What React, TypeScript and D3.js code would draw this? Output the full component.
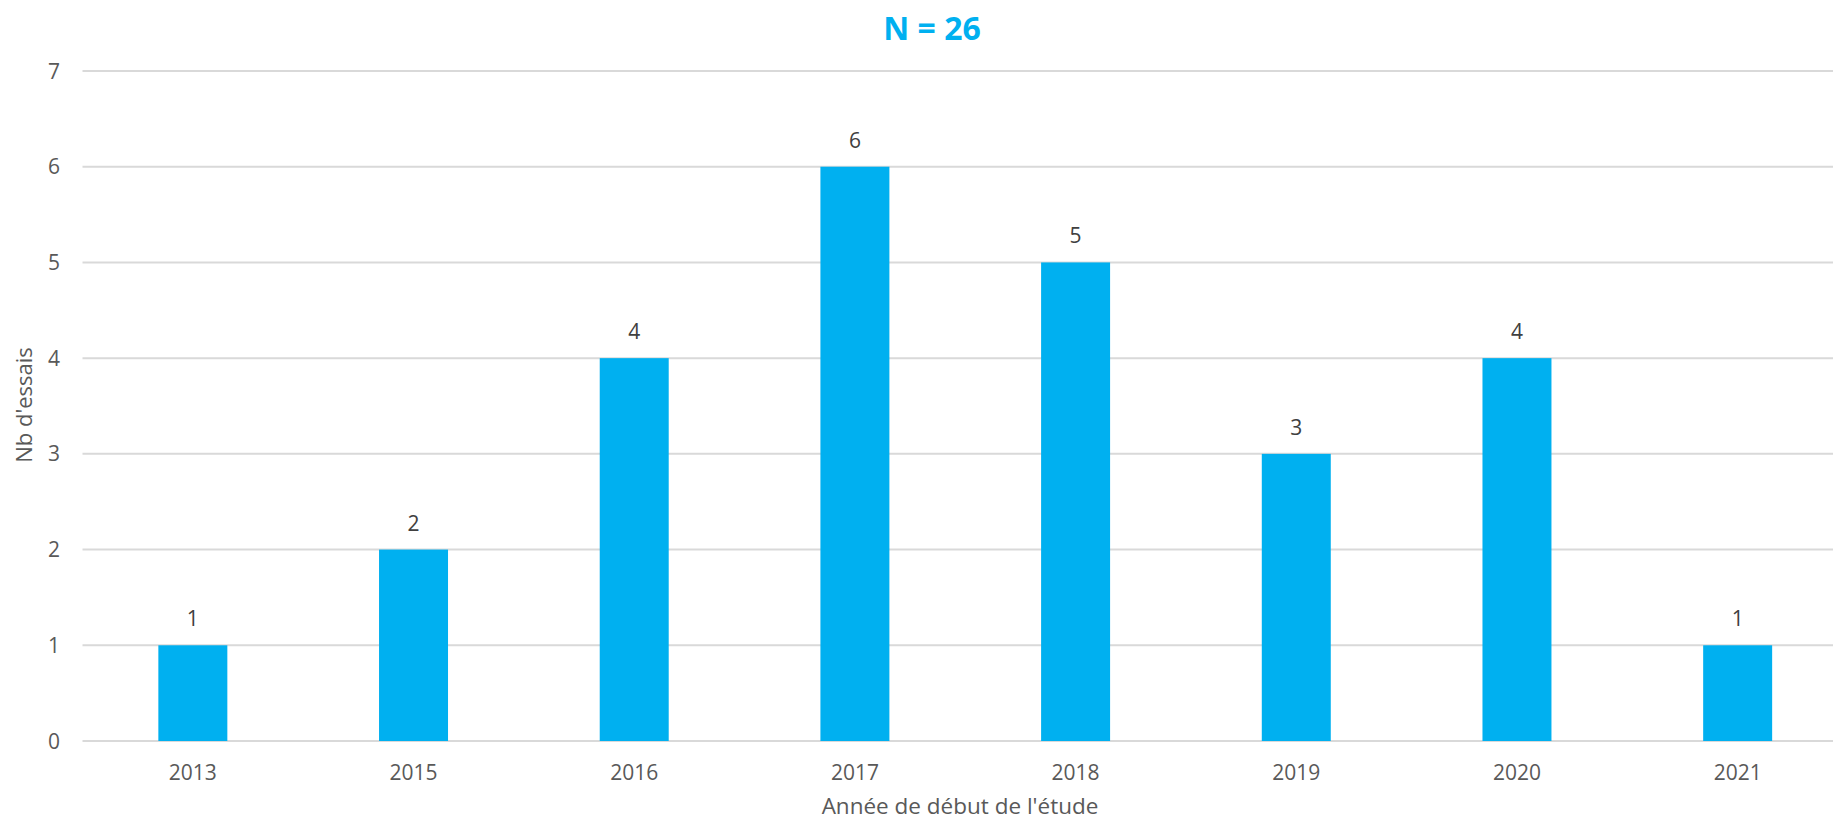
import { useEffect, useRef } from 'react';
import * as d3 from 'd3';

// Data
const years = ['2013', '2015', '2016', '2017', '2018', '2019', '2020', '2021'];
const trials = [1, 2, 4, 6, 5, 3, 4, 1];
const yTicks = [0, 1, 2, 3, 4, 5, 6, 7];
const totalLabel = 'N = 26';

const WIDTH = 1833;
const HEIGHT = 824;
const PLOT = { left: 82.5, right: 1848, top: 71, bottom: 741 };
const FONT = '"Open Sans", sans-serif';
const BLUE = '#00b0f0';

export default function App() {
  const svgRef = useRef<SVGSVGElement>(null);

  useEffect(() => {
    if (!svgRef.current) return;
    const svg = d3.select(svgRef.current);
    svg.selectAll('*').remove();

    const x = d3
      .scaleBand<string>()
      .domain(years)
      .range([PLOT.left, PLOT.right])
      .paddingInner(0.6874)
      .paddingOuter(0.3437);
    const y = d3.scaleLinear().domain([0, 7]).range([PLOT.bottom, PLOT.top]);

    // Gridlines
    svg
      .append('g')
      .selectAll('line')
      .data(yTicks)
      .enter()
      .append('line')
      .attr('x1', PLOT.left)
      .attr('x2', WIDTH)
      .attr('y1', (d) => y(d))
      .attr('y2', (d) => y(d))
      .attr('stroke', '#d9d9d9')
      .attr('stroke-width', 2);

    // Y tick labels
    svg
      .append('g')
      .selectAll('text')
      .data(yTicks)
      .enter()
      .append('text')
      .attr('x', 60)
      .attr('y', (d) => y(d))
      .attr('dy', '0.36em')
      .attr('text-anchor', 'end')
      .attr('fill', '#595959')
      .attr('font-family', FONT)
      .attr('font-size', '21px')
      .text((d) => String(d));

    // Bars
    svg
      .append('g')
      .selectAll('rect')
      .data(trials)
      .enter()
      .append('rect')
      .attr('x', (_, i) => x(years[i]) as number)
      .attr('y', (d) => y(d))
      .attr('width', x.bandwidth())
      .attr('height', (d) => y(0) - y(d))
      .attr('fill', BLUE);

    // Value labels
    svg
      .append('g')
      .selectAll('text')
      .data(trials)
      .enter()
      .append('text')
      .attr('x', (_, i) => (x(years[i]) as number) + x.bandwidth() / 2)
      .attr('y', (d) => y(d) - 19)
      .attr('text-anchor', 'middle')
      .attr('fill', '#404040')
      .attr('font-family', FONT)
      .attr('font-size', '21px')
      .text((d) => String(d));

    // X tick labels
    svg
      .append('g')
      .selectAll('text')
      .data(years)
      .enter()
      .append('text')
      .attr('x', (d) => (x(d) as number) + x.bandwidth() / 2)
      .attr('y', 780)
      .attr('text-anchor', 'middle')
      .attr('fill', '#595959')
      .attr('font-family', FONT)
      .attr('font-size', '21px')
      .text((d) => d);

    // Axis titles
    svg
      .append('text')
      .attr('x', 960)
      .attr('y', 814)
      .attr('text-anchor', 'middle')
      .attr('fill', '#595959')
      .attr('font-family', FONT)
      .attr('font-size', '22.5px')
      .text("Année de début de l'étude");

    svg
      .append('text')
      .attr('transform', 'translate(32,405) rotate(-90)')
      .attr('text-anchor', 'middle')
      .attr('fill', '#595959')
      .attr('font-family', FONT)
      .attr('font-size', '22px')
      .text("Nb d'essais");

    // Title
    svg
      .append('text')
      .attr('x', 932)
      .attr('y', 40)
      .attr('text-anchor', 'middle')
      .attr('fill', BLUE)
      .attr('font-family', FONT)
      .attr('font-weight', 'bold')
      .attr('font-size', '32px')
      .text(totalLabel);
  }, []);

  return (
    <svg
      ref={svgRef}
      width={WIDTH}
      height={HEIGHT}
      style={{ position: 'absolute', left: 0, top: 0, background: '#fff' }}
    />
  );
}
